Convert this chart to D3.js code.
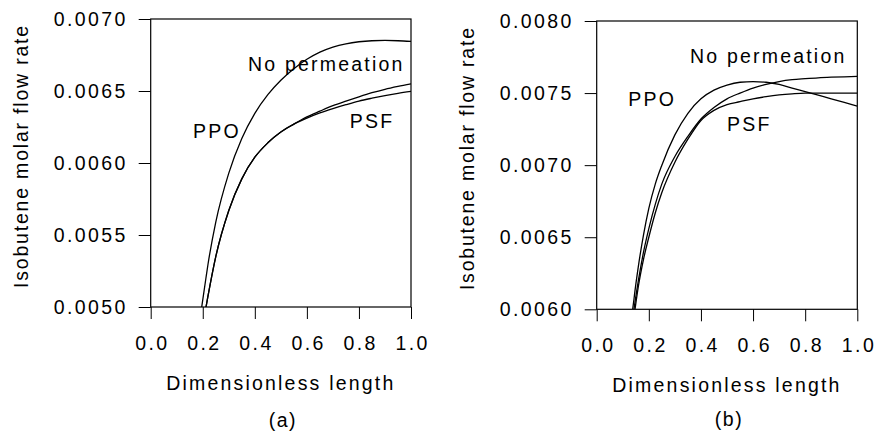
<!DOCTYPE html>
<html lang="en">
<head>
<meta charset="UTF-8">
<title>Isobutene molar flow rate vs dimensionless length</title>
<script src="https://d3js.org/d3.v7.min.js"></script>
<style>
  body { margin: 0; background: #fff; }
  text { font-family: "Liberation Sans", Arial, sans-serif; fill: #000; }
  .line { fill: none; stroke: #000; stroke-width: 1.3px; }
</style>
</head>
<body>
<div id="chart"></div>
<script>

var xTicks = [0, 0.2, 0.4, 0.6, 0.8, 1.0];
var yTicksA = [0.0050, 0.0055, 0.0060, 0.0065, 0.0070];
var yTicksB = [0.0060, 0.0065, 0.0070, 0.0075, 0.0080];

// panel (a)
var lenA    = [0.196, 0.2125, 0.22, 0.25, 0.3, 0.35, 0.4, 0.45, 0.5, 0.55, 0.6, 0.65, 0.7, 0.75, 0.8, 0.85, 0.9, 0.95, 1.0];
var ppoA    = [0.00500, 0.005205, 0.005295, 0.00559, 0.00593, 0.00617, 0.006345, 0.006475, 0.006575, 0.006655, 0.00672, 0.00677, 0.006805, 0.006828, 0.006842, 0.006849, 0.006851, 0.006849, 0.006844];
var noPermA = [null, 0.00500, 0.005075, 0.00535, 0.00567, 0.00589, 0.00604, 0.00614, 0.006215, 0.00627, 0.00632, 0.00636, 0.006398, 0.00643, 0.00646, 0.006488, 0.006512, 0.006532, 0.00655];
var psfA    = [null, 0.00500, 0.005075, 0.00535, 0.00567, 0.00589, 0.00604, 0.00614, 0.006215, 0.00627, 0.006312, 0.006348, 0.006378, 0.006405, 0.00643, 0.00645, 0.006468, 0.006484, 0.006497];

// panel (b)
var lenB    = [0.138, 0.143, 0.147, 0.16, 0.18, 0.2, 0.225, 0.25, 0.3, 0.35, 0.4, 0.45, 0.5, 0.55, 0.6, 0.65, 0.7, 0.75, 0.8, 0.85, 0.9, 0.95, 1.0];
var ppoB    = [0.00600, 0.00607, 0.00613, 0.00630, 0.00652, 0.00670, 0.00687, 0.00700, 0.00721, 0.00736, 0.00746, 0.00752, 0.007555, 0.007575, 0.00758, 0.007575, 0.00756, 0.007535, 0.00751, 0.007485, 0.00746, 0.007435, 0.00741];
var noPermB = [null, 0.00600, 0.00605, 0.00620, 0.00640, 0.00656, 0.00673, 0.00687, 0.00706, 0.00720, 0.00732, 0.00740, 0.00746, 0.00750, 0.007535, 0.00756, 0.00758, 0.007593, 0.00760, 0.007606, 0.00761, 0.007613, 0.007616];
var psfB    = [null, null, 0.00600, 0.00616, 0.00635, 0.00650, 0.00667, 0.00681, 0.00702, 0.00718, 0.00731, 0.00738, 0.00742, 0.00744, 0.00746, 0.007475, 0.007487, 0.007495, 0.00750, 0.00750, 0.00750, 0.00750, 0.00750];

// curve labels, in data units (x, flow rate)
var labelsA = [["No permeation", 0.374, 0.006639], ["PPO", 0.1625, 0.006176], ["PSF", 0.765, 0.006245]];
var labelsB = [["No permeation", 0.358, 0.007707], ["PPO", 0.121, 0.00741], ["PSF", 0.50, 0.007237]];

var width = 877, height = 432;
var fs = 19.5;

var svg = d3.select("#chart").append("svg")
    .attr("width", width)
    .attr("height", height);

svg.append("rect").attr("width", width).attr("height", height).attr("fill", "#fff");

function panel(id, left, top, w, h, len, series, yDomain, yTicks, labels, caption, capY) {
  var x = d3.scaleLinear().domain([0, 1]).range([0, w]);
  var y = d3.scaleLinear().domain(yDomain).range([h, 0]);

  var g = svg.append("g").attr("transform", "translate(" + left + "," + top + ")");

  g.append("defs").append("clipPath")
      .attr("id", "clip" + id)
    .append("rect")
      .attr("width", w)
      .attr("height", h);

  var yAxis = g.append("g")
      .call(d3.axisLeft(y).tickValues(yTicks).tickSize(12).tickPadding(11).tickFormat(d3.format(".4f")));
  var xAxis = g.append("g")
      .attr("transform", "translate(0," + h + ")")
      .call(d3.axisBottom(x).tickValues(xTicks).tickSize(12).tickPadding(17).tickFormat(d3.format(".1f")));

  [xAxis, yAxis].forEach(function(a) {
    a.select(".domain").remove();
    a.selectAll("line").attr("stroke", "#000").attr("stroke-width", 1);
    a.selectAll("text")
      .style("font-size", fs + "px")
      .style("letter-spacing", "2.4px")
      .style("font-family", '"Liberation Sans", Arial, sans-serif');
  });
  xAxis.selectAll("text").attr("dx", "1.2px");

  // frame
  g.append("rect")
      .attr("width", w)
      .attr("height", h)
      .attr("fill", "none")
      .attr("stroke", "#000")
      .attr("stroke-width", 1.2);

  var line = d3.line()
      .defined(function(d) { return d[1] != null; })
      .x(function(d) { return x(d[0]); })
      .y(function(d) { return y(d[1]); })
      .curve(d3.curveMonotoneX);

  var lines = g.append("g").attr("clip-path", "url(#clip" + id + ")");
  series.forEach(function(s) {
    lines.append("path")
        .datum(len.map(function(l, i) { return [l, s[i]]; }))
        .attr("class", "line")
        .attr("d", line);
  });

  g.selectAll(".lbl")
    .data(labels)
    .enter().append("text")
      .attr("class", "lbl")
      .attr("x", function(d) { return x(d[1]); })
      .attr("y", function(d) { return y(d[2]); })
      .style("font-size", fs + "px")
      .style("letter-spacing", "2.2px")
      .text(function(d) { return d[0]; });

  g.append("text")
      .attr("x", w / 2)
      .attr("y", h + 83)
      .attr("text-anchor", "middle")
      .style("font-size", fs + "px")
      .style("letter-spacing", "2.2px")
      .text("Dimensionless length");

  g.append("text")
      .attr("x", w / 2 + 2)
      .attr("y", capY - top)
      .attr("text-anchor", "middle")
      .style("font-size", fs + "px")
      .style("letter-spacing", "1.5px")
      .text(caption);

  g.append("text")
      .attr("transform", "translate(-123," + (h / 2 - 7) + ") rotate(-90)")
      .attr("text-anchor", "middle")
      .style("font-size", fs + "px")
      .style("letter-spacing", "1.8px")
      .text("Isobutene molar flow rate");
}

panel("a", 150.7, 19, 260.3, 288, lenA, [ppoA, noPermA, psfA], [0.005, 0.007], yTicksA, labelsA, "(a)", 427);
panel("b", 596.7, 21, 260.6, 288.3, lenB, [ppoB, noPermB, psfB], [0.006, 0.008], yTicksB, labelsB, "(b)", 426);

</script>
</body>
</html>
